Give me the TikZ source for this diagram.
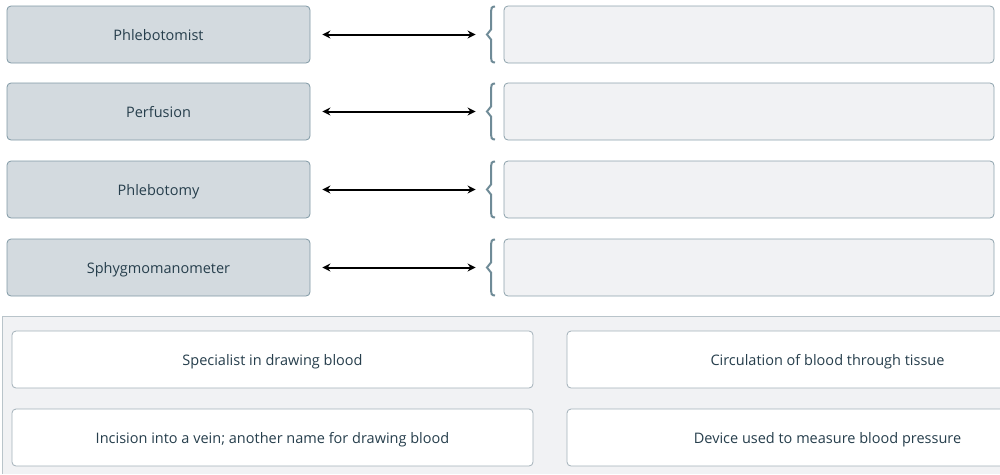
\documentclass[tikz,border=0pt]{standalone}
\usepackage{fontspec}
\setmainfont{Open Sans}
\usetikzlibrary{arrows.meta}
\definecolor{termfill}{HTML}{D3DADF}
\definecolor{termdraw}{HTML}{7F98A4}
\definecolor{slotfill}{HTML}{F1F2F4}
\definecolor{slotdraw}{HTML}{8DA2AC}
\definecolor{txt}{HTML}{263E4C}
\definecolor{bracec}{HTML}{6F8B97}
\definecolor{panelfill}{HTML}{F1F2F4}
\definecolor{paneldraw}{HTML}{B9C4CA}
\definecolor{carddraw}{HTML}{A3B1B9}
\begin{document}
\begin{tikzpicture}[x=1pt,y=-1pt,
  term/.style={draw=termdraw,fill=termfill,rounded corners=4pt,line width=0.8pt,
    minimum width=303pt,minimum height=57pt,inner sep=0pt,text=txt,
    text height=12pt,text depth=1pt,font=\fontsize{14.5}{17}\selectfont},
  slot/.style={draw=slotdraw,fill=slotfill,rounded corners=4pt,line width=0.8pt,
    minimum width=490pt,minimum height=57pt,inner sep=0pt},
  card/.style={draw=carddraw,fill=white,rounded corners=4pt,line width=0.8pt,
    minimum height=57pt,inner sep=0pt,text=txt,
    text height=12pt,text depth=1pt,font=\fontsize{14.5}{17}\selectfont},
  link/.style={{Stealth[length=8pt,width=8pt]}-{Stealth[length=8pt,width=8pt]},line width=2pt,
    shorten <=12pt,shorten >=28pt},
  bracestyle/.style={draw=bracec,line width=2pt}
]
\useasboundingbox (0,0) rectangle (1000,474);
% panel
\fill[panelfill] (2,316) rectangle (1000,474);
\draw[paneldraw,line width=0.8pt] (1000,316) -- (2,316) -- (2,474);

\foreach \i/\y/\t in {1/34.5/Phlebotomist,2/111.5/Perfusion,3/189.5/Phlebotomy,4/267.5/Sphygmomanometer}{
  \node[term] (l\i) at (158.5,\y) {\t};
  \node[slot] (r\i) at (749,\y) {};
  \draw[link] (l\i.east) -- (r\i.west);
  \draw[bracestyle] (495,\y-28) .. controls (491.5,\y-28) and (491,\y-26) .. (491,\y-23)
     -- (491,\y-5) -- (487,\y) -- (491,\y+5) -- (491,\y+23)
     .. controls (491,\y+26) and (491.5,\y+28) .. (495,\y+28);
}
\begin{scope}
\clip (0,0) rectangle (1000,474);
\node[card,minimum width=521pt] (c1) at (272.5,359.5) {Specialist in drawing blood};
\node[card,minimum width=521pt] (c2) at (272.5,437.5) {Incision into a vein; another name for drawing blood};
\node[card,minimum width=521pt] (c3) at (827.5,359.5) {Circulation of blood through tissue};
\node[card,minimum width=521pt] (c4) at (827.5,437.5) {Device used to measure blood pressure};
\end{scope}
\end{tikzpicture}
\end{document}
